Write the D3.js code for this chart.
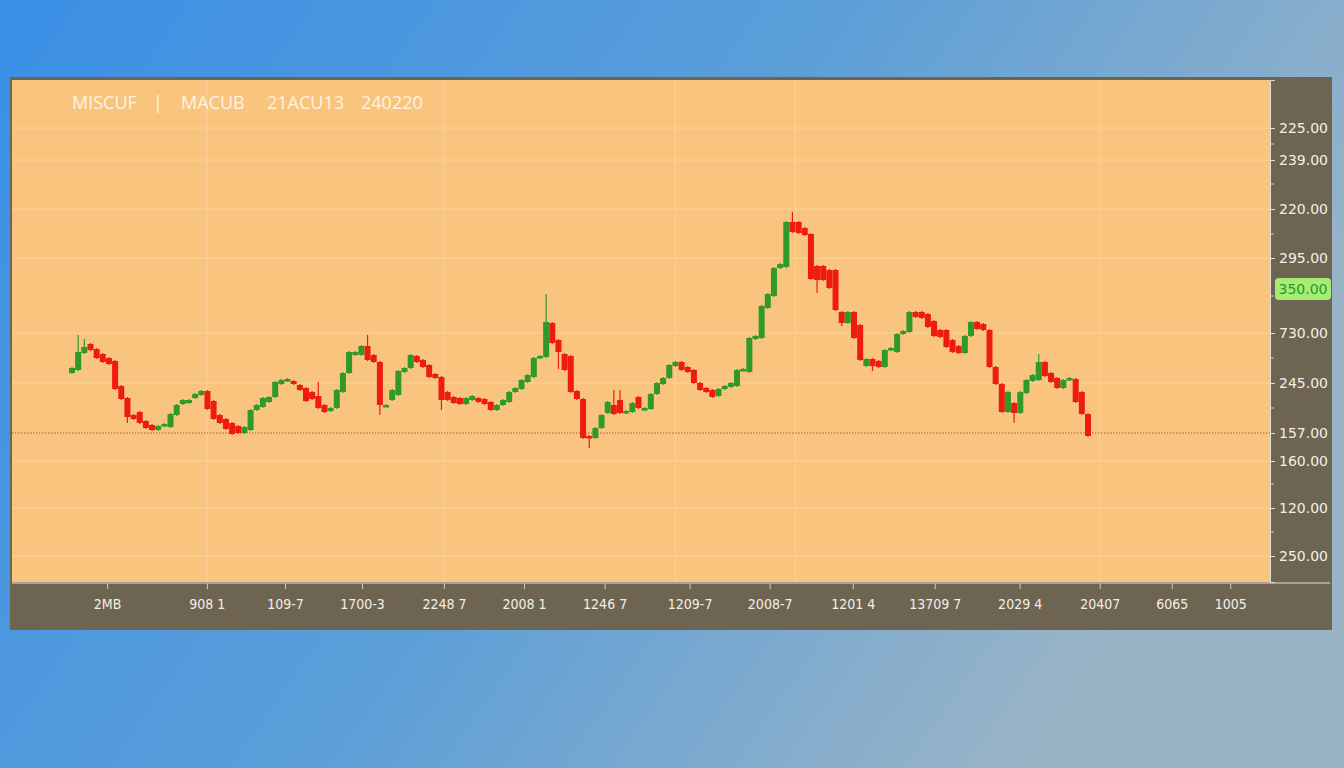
<!DOCTYPE html>
<html><head><meta charset="utf-8">
<script src="https://cdn.jsdelivr.net/npm/d3@7"></script>
<style>body{margin:0;overflow:hidden}svg{display:block}</style>
</head><body>
<script>
// candles: [open, close, high?, low?]
const candles = [
[229,234],[232,250,266],[249,255,262],[258,252],[253,244],[248,240],[244,238],[241,213],[216,203],[204,185,null,180],
[187,183],[190,179],[181,174],[177,172],[172,176],[176,178],[175,188],[187,197],[198,202],[199,202],
[204,208],[207,211],[211,193],[201,183],[187,179],[183,173],[179,168],[176,169],[169,175],[172,192],
[192,197],[195,204],[200,205],[205,220],[218,222],[221,223],[221,218],[217,212],[214,201],[210,203],
[206,194,219],[197,190],[191,194],[194,212],[210,229],[229,250],[247,250],[247,256],[256,242,266],[247,240],
[240,197,null,188],[196,197],[202,212],[207,231],[230,234],[234,247],[246,240],[242,235],[237,225],[228,224],
[225,202,null,193],[210,202],[205,199],[204,198],[198,204],[202,206],[204,200],[203,198],[200,192],[192,197],
[197,202],[200,210],[210,214],[213,222],[220,227],[225,244],[244,246],[245,280,307],[279,259],[262,250,null,234],
[248,232],[246,210],[211,203],[203,164],[166,164,null,155],[164,174],[174,187],[189,200],[197,188,211],[202,189,211],
[189,191],[190,199],[205,194],[192,194],[193,208],[208,219],[218,224],[224,237],[236,240],[240,232],
[235,230],[232,219],[219,212],[214,210],[212,205],[206,213],[213,216],[215,219],[216,232],[232,233],
[230,264],[263,266],[264,296],[294,308],[306,334],[334,338],[335,380],[380,370,389],[380,369],[374,367],
[368,323],[336,322,null,310],[336,322],[332,314],[332,292],[290,279,null,277],[279,290],[290,264],[277,242],[236,243],
[243,236,null,232],[241,235],[235,252],[252,254],[250,268],[268,271],[270,290],[290,285],[290,284],[288,275],
[281,266],[272,265],[272,255],[262,250],[256,249],[249,266],[266,280],[280,273],[278,272],[272,235],
[235,218],[218,190],[190,210],[199,189,null,180],[189,210],[209,222],[221,227],[222,240,247],[240,226],[229,220],
[224,214],[214,222],[222,224],[223,200],[210,188],[188,166]
];
const yTickValues = [474,442,393,344,269,219,169,141,94,46];
const yTickLabels = ["225.00","239.00","220.00","295.00","730.00","245.00","157.00","160.00","120.00","250.00"];
const lastPrice = 313, lastLabel = "350.00";
const refPrice = 169;
const xTickIdx = [5.7,21.9,34.6,47.1,60.4,73.4,86.5,100.3,113.3,126.8,140.1,153.9,166.9,178.6,188.1];
const xTickLabels = ["2MB","908 1","109-7","1700-3","2248 7","2008 1","1246 7","1209-7","2008-7","1201 4","13709 7","2029 4","20407","6065","1005"];
const titleParts = ["MISCUF","|","MACUB","21ACU13","240220"];

const W=1344,H=768;
const svg=d3.select("body").append("svg").attr("width",W).attr("height",H);
const defs=svg.append("defs");
const g=defs.append("linearGradient").attr("id","bg").attr("x1",0).attr("y1",0).attr("x2",1).attr("y2",0.4);
g.append("stop").attr("offset",0).attr("stop-color","#3a8fe6");
g.append("stop").attr("offset",0.55).attr("stop-color","#5c9fd8");
g.append("stop").attr("offset",1).attr("stop-color","#9ab4c6");
svg.append("rect").attr("width",W).attr("height",H).attr("fill","url(#bg)");

const L=12,T=80,R=1270,B=582;
svg.append("rect").attr("x",10).attr("y",77).attr("width",1322).attr("height",553).attr("fill","#6d6452");
svg.append("rect").attr("x",L).attr("y",T).attr("width",R-L).attr("height",B-T).attr("fill","#f9c47d");

const y=d3.scaleLinear().domain([20,522]).range([B,T]);
const x=d3.scaleLinear().domain([0,candles.length-1]).range([72,1088]);

svg.append("g").selectAll("line").data(yTickValues).join("line")
 .attr("x1",L).attr("x2",R).attr("y1",d=>y(d)).attr("y2",d=>y(d))
 .attr("stroke","#fbd3a0").attr("stroke-width",1);
const vGrid=[21.9,60.4,98,117.5,166.9];
svg.append("g").selectAll("line").data(vGrid).join("line")
 .attr("x1",d=>x(d)).attr("x2",d=>x(d)).attr("y1",T).attr("y2",B)
 .attr("stroke","#fbd3a0").attr("stroke-width",1);

svg.append("line").attr("x1",L).attr("x2",R).attr("y1",y(refPrice)).attr("y2",y(refPrice))
 .attr("stroke","#b5472a").attr("stroke-width",1).attr("stroke-dasharray","1.5,1.5");

const tx=[72,153,181,267,361];
titleParts.forEach((t,i)=>svg.append("text").attr("x",tx[i]).attr("y",109).attr("fill","#fff3e2")
 .attr("font-family","Open Sans, sans-serif").attr("font-size",18).text(t));

const up="#2f9a2a", dn="#ee1c10";
const cg=svg.append("g");
candles.forEach((c,i)=>{
  const [o,cl,h,l]=c; const col=cl>=o?up:dn;
  const hi=h!=null?h:Math.max(o,cl), lo=l!=null?l:Math.min(o,cl);
  cg.append("line").attr("x1",x(i)).attr("x2",x(i)).attr("y1",y(hi)-1).attr("y2",y(lo)+1).attr("stroke",col).attr("stroke-width",1.2);
  const top=y(Math.max(o,cl)), bot=y(Math.min(o,cl));
  cg.append("rect").attr("x",x(i)-3).attr("width",6).attr("y",top).attr("height",Math.max(2.5,bot-top)).attr("fill",col);
});

const ya=d3.axisRight(y).tickValues(yTickValues).tickFormat((d,i)=>yTickLabels[i]).tickSize(5);
const yg=svg.append("g").attr("transform",`translate(${R},0)`).call(ya);
yg.select(".domain").attr("stroke","#ddd").attr("stroke-width",1);
yg.selectAll("line").attr("stroke","#e8e2d8");
yg.selectAll("text").attr("fill","#f4efe6").attr("font-family","DejaVu Sans, sans-serif").attr("font-size",14).attr("x",9);
const minor=[458,418,368,306,244,194,118,70];
svg.append("g").selectAll("line").data(minor).join("line").attr("x1",R).attr("x2",R+4)
 .attr("y1",d=>y(d)).attr("y2",d=>y(d)).attr("stroke","#d8d2c8");
svg.append("rect").attr("x",R+5).attr("y",y(lastPrice)-11).attr("width",56).attr("height",22).attr("rx",4).attr("fill","#a6ec74");
svg.append("text").attr("x",R+33).attr("y",y(lastPrice)+5).attr("text-anchor","middle").attr("fill","#1f9a25")
 .attr("font-family","DejaVu Sans, sans-serif").attr("font-size",14).text(lastLabel);

const xa=d3.axisBottom(x).tickValues(xTickIdx).tickFormat((d,i)=>xTickLabels[i]).tickSize(5);
const xg=svg.append("g").attr("transform",`translate(0,${B+2})`).call(xa);
xg.select(".domain").remove();
xg.selectAll("line").attr("stroke","#d8d2c8");
xg.selectAll("text").attr("fill","#f4efe6").attr("font-family","DejaVu Sans Condensed, DejaVu Sans, sans-serif").attr("font-size",14).attr("dy","1.2em");
svg.append("line").attr("x1",L).attr("x2",1330).attr("y1",B+1).attr("y2",B+1).attr("stroke","#e8e0d2").attr("stroke-width",1);
</script>
</body></html>
